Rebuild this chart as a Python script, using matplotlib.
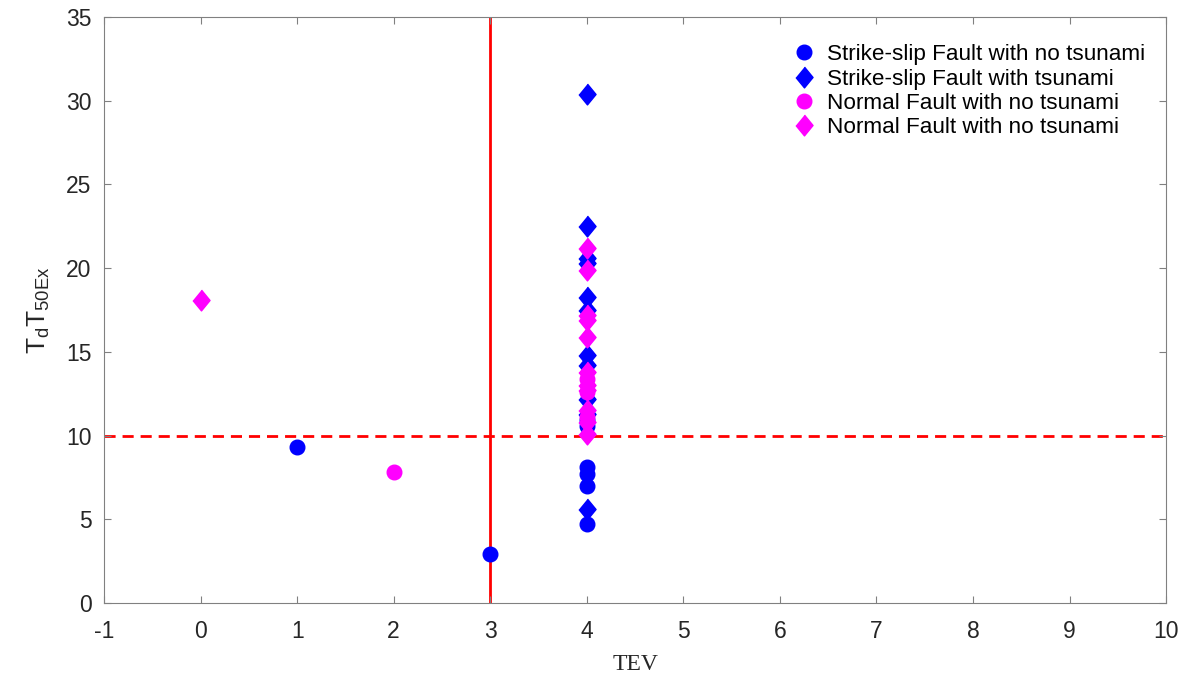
import matplotlib
matplotlib.use("Agg")
import matplotlib.pyplot as plt

plt.rcParams["font.family"] = ["Liberation Sans", "DejaVu Sans"]
plt.rcParams["axes.unicode_minus"] = False

# Strike-slip fault, no tsunami (circles)
ss_no_x = [1, 3, 4, 4, 4, 4, 4, 4]
ss_no_y = [9.3, 2.9, 8.1, 7.7, 7.0, 4.7, 10.6, 10.9]

# Strike-slip fault, with tsunami (diamonds)
ss_ts_x = [4, 4, 4, 4, 4, 4, 4, 4, 4, 4, 4]
ss_ts_y = [30.4, 22.5, 20.6, 20.3, 18.3, 14.8, 14.2, 12.2, 11.3, 5.6, 17.5]

# Normal fault, no tsunami (circles)
nf_no_x = [2, 4, 4, 4]
nf_no_y = [7.8, 13.4, 12.6, 11.1]

# Normal fault, second group (diamonds)
nf_ts_x = [0, 4, 4, 4, 4, 4, 4, 4, 4, 4, 4, 4]
nf_ts_y = [18.1, 21.2, 19.9, 17.2, 16.9, 15.9, 13.8, 13.0, 12.7, 11.5, 10.8, 10.1]

labels = ["Strike-slip Fault with no tsunami", "Strike-slip Fault with tsunami",
          "Normal Fault with no tsunami", "Normal Fault with no tsunami"]

xticks = list(range(-1, 11))
yticks = list(range(0, 36, 5))

diamond = [(0, 1), (0.82, 0), (0, -1), (-0.82, 0)]

fig = plt.figure(figsize=(11.89, 6.75), dpi=100)
ax = fig.add_axes([0.0875, 0.1067, 0.8932, 0.8681])

ax.axvline(3, color="red", lw=2, zorder=1)
ax.axhline(10, color="red", lw=2, ls=(0, (4, 2.5)), zorder=1)

ax.plot(ss_no_x, ss_no_y, "o", color="blue", ms=10.5, ls="none", label=labels[0], zorder=3)
ax.plot(ss_ts_x, ss_ts_y, marker=diamond, color="blue", ms=15, ls="none", label=labels[1], zorder=3)
ax.plot(nf_no_x, nf_no_y, "o", color="magenta", ms=10.5, ls="none", label=labels[2], zorder=3)
ax.plot(nf_ts_x, nf_ts_y, marker=diamond, color="magenta", ms=15, ls="none", label=labels[3], zorder=3)

ax.set_xlim(-1, 10)
ax.set_ylim(0, 35)
ax.set_xticks(xticks)
ax.set_yticks(yticks)
ax.tick_params(labelsize=16.5, labelcolor="#262626", color="#808080", direction="in",
               length=5, top=True, right=True)
ax.tick_params(axis="x", pad=12)
ax.tick_params(axis="y", pad=9)
for s in ax.spines.values():
    s.set_color("#808080")

ax.set_xlabel("TEV", fontsize=17, family=["Liberation Serif"], color="#262626", labelpad=8)
ax.set_ylabel(r"$\mathregular{T_d T_{50Ex}}$", fontsize=19, color="#262626", labelpad=10)

leg = ax.legend(loc="upper right", bbox_to_anchor=(1.0, 0.99), frameon=False,
                fontsize=16.2, labelspacing=0.15, handletextpad=0.3,
                borderaxespad=0.55, handlelength=1.4)

fig.savefig("out.png", dpi=100)
